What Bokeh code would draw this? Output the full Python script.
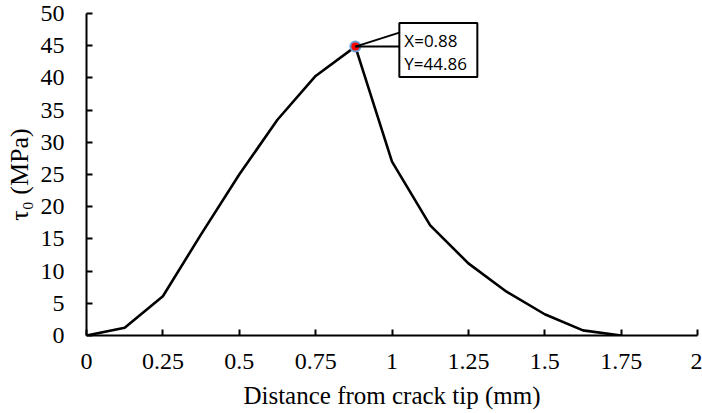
from bokeh.plotting import figure
from bokeh.models import Range1d, FixedTicker, Label
from bokeh.embed import file_html
from bokeh.resources import INLINE

# ---- data ----
distance = [0.0, 0.125, 0.25, 0.375, 0.5, 0.625, 0.75, 0.88, 1.0, 1.125, 1.25, 1.375, 1.5, 1.625, 1.75]
tau0 = [0.0, 1.2, 6.1, 15.7, 25.0, 33.5, 40.3, 44.86, 27.0, 17.1, 11.2, 6.8, 3.3, 0.8, 0.0]
x_ticks = [0, 0.25, 0.5, 0.75, 1, 1.25, 1.5, 1.75, 2]
x_tick_labels = ["0", "0.25", "0.5", "0.75", "1", "1.25", "1.5", "1.75", "2"]
y_ticks = [0, 5, 10, 15, 20, 25, 30, 35, 40, 45, 50]
peak_x = 0.88
peak_y = 44.86
x_label = "Distance from crack tip (mm)"
y_label = "τ₀ (MPa)"

# ---- layout constants ----
W, H = 702, 413
LEFT, RIGHT, TOP, BOTTOM = 86, 5, 13, 78
XMIN, XMAX, YMIN, YMAX = 0, 2, 0, 50
plot_w = W - LEFT - RIGHT
plot_h = H - TOP - BOTTOM
px_x = (XMAX - XMIN) / plot_w
px_y = (YMAX - YMIN) / plot_h

p = figure(width=W, height=H, output_backend="svg", toolbar_location=None,
           x_range=Range1d(XMIN, XMAX), y_range=Range1d(YMIN, YMAX),
           min_border_left=LEFT, min_border_right=RIGHT,
           min_border_top=TOP, min_border_bottom=BOTTOM)
p.outline_line_color = None
p.grid.grid_line_color = None
p.background_fill_color = "white"
p.border_fill_color = "white"

serif = "Liberation Serif"
for ax in (p.xaxis[0], p.yaxis[0]):
    ax.axis_line_width = 2
    ax.axis_line_color = "black"
    ax.major_tick_line_width = 2
    ax.major_tick_line_color = "black"
    ax.major_tick_in = 6
    ax.major_tick_out = 0
    ax.minor_tick_line_color = None
    ax.major_label_text_font = serif
    ax.major_label_text_font_size = "24px"
    ax.major_label_text_color = "black"
    ax.axis_label_text_font = serif
    ax.axis_label_text_font_style = "normal"
    ax.axis_label_text_font_size = "25px"
    ax.axis_label_text_color = "black"

p.xaxis.ticker = FixedTicker(ticks=x_ticks)
p.xaxis.major_label_overrides = {t: s for t, s in zip(x_ticks, x_tick_labels)}
p.yaxis.ticker = FixedTicker(ticks=y_ticks)
p.xaxis.axis_label = x_label
p.yaxis.axis_label = y_label
p.yaxis.axis_label_text_font_size = "26px"
p.xaxis.major_label_standoff = 18
p.xaxis.axis_label_standoff = 10
p.yaxis.major_label_standoff = 22
p.yaxis.axis_label_standoff = 4

p.line(distance, tau0, line_color="black", line_width=2.6)

# peak marker
p.scatter([peak_x], [peak_y], size=10, fill_color="red",
          line_color="#6a9fd4", line_width=2)

# callout (offsets in screen pixels converted to data units)
box_dx, box_w, box_h = 44, 78, 54
box_cy_off = -3.4
p.segment(x0=[peak_x, peak_x], y0=[peak_y, peak_y],
          x1=[peak_x + box_dx * px_x, peak_x + box_dx * px_x],
          y1=[peak_y + 14 * px_y, peak_y],
          line_color="black", line_width=2)
p.rect(x=[peak_x + (box_dx + box_w / 2) * px_x], y=[peak_y + box_cy_off * px_y],
       width=box_w, height=box_h, width_units="screen", height_units="screen",
       fill_color="white", line_color="black", line_width=2)

for txt, yoff in ((f"X={peak_x:.2f}", 6.0), (f"Y={peak_y:.2f}", -16.6)):
    p.add_layout(Label(x=peak_x, y=peak_y, x_offset=box_dx + 5, y_offset=yoff,
                       text=txt, text_align="left", text_baseline="alphabetic",
                       text_font="Open Sans", text_font_size="17px",
                       text_color="black"))

open("out.html", "w").write(file_html(p, INLINE))
